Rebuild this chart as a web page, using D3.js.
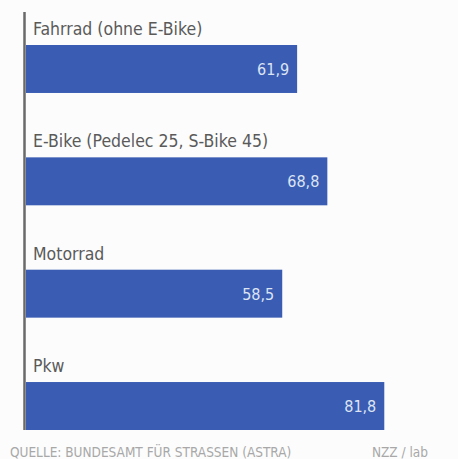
<!DOCTYPE html>
<html>
<head>
<meta charset="utf-8">
<script src="https://cdn.jsdelivr.net/npm/d3@7"></script>
<style>
html, body { margin: 0; padding: 0; background: #fcfcfc; }
svg { display: block; }
text { font-family: "Liberation Sans Narrow", "DejaVu Sans Condensed", "Roboto", sans-serif; }
</style>
</head>
<body>
<div id="graph"></div>
<script>
(function(){
"use strict";

var categories = ["Fahrrad (ohne E-Bike)", "E-Bike (Pedelec 25, S-Bike 45)", "Motorrad", "Pkw"];
var values = [61.9, 68.8, 58.5, 81.8];
var valueLabels = ["61,9", "68,8", "58,5", "81,8"];
var source = "QUELLE: BUNDESAMT FÜR STRASSEN (ASTRA)";
var credit = "NZZ / lab";

var width = 458;
var height = 459;
var left = 26;

var data = categories.map(function(c, i){
	return {name: c, value: values[i], label: valueLabels[i]};
});

var x = d3.scaleLinear()
	.domain([0, 100])
	.range([left, left + 438]);
var y = d3.scaleBand()
	.domain(categories)
	.range([45, 430])
	.paddingInner(0.573)
	.paddingOuter(0);

var svg = d3.select("#graph")
	.append("svg")
		.attr("width", width)
		.attr("height", height);

// axis line on the left
svg.append("line")
	.attr("x1", 24.5)
	.attr("x2", 24.5)
	.attr("y1", 12)
	.attr("y2", 430)
	.attr("stroke", "#6a6a6a")
	.attr("stroke-width", 2.5);

var row = svg.selectAll("g.row")
	.data(data)
	.enter()
	.append("g")
		.attr("class", "row");

row.append("rect")
	.attr("x", x(0))
	.attr("y", function(d){ return y(d.name); })
	.attr("width", function(d){ return x(d.value) - x(0); })
	.attr("height", y.bandwidth())
	.attr("fill", "#3a5db3");

row.append("text")
	.attr("x", 33)
	.attr("y", function(d){ return y(d.name) - 10; })
	.attr("fill", "#5a5a5a")
	.style("font-size", "17.5px")
	.text(function(d){ return d.name; });

row.append("text")
	.attr("x", function(d){ return x(d.value) - 8; })
	.attr("y", function(d){ return y(d.name) + y.bandwidth() / 2 + 6; })
	.attr("text-anchor", "end")
	.attr("fill", "#dde4f3")
	.style("font-size", "16px")
	.text(function(d){ return d.label; });

svg.append("text")
	.attr("x", 10)
	.attr("y", 457)
	.attr("fill", "#a8a8a8")
	.style("font-size", "13.5px")
	.text(source);

svg.append("text")
	.attr("x", 428)
	.attr("y", 457)
	.attr("text-anchor", "end")
	.attr("fill", "#a8a8a8")
	.style("font-size", "13.5px")
	.text(credit);

})();
</script>
</body>
</html>
